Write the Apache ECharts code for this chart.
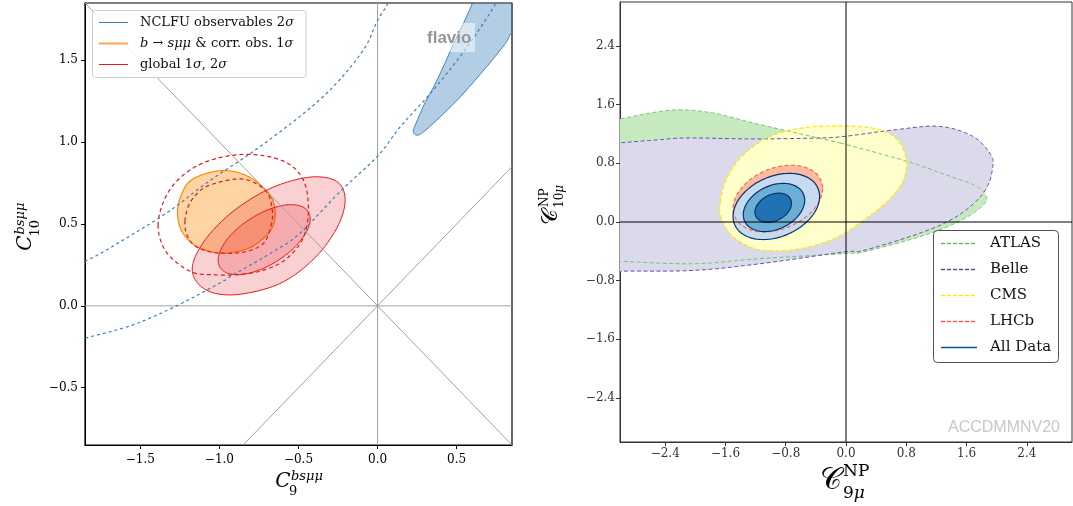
<!DOCTYPE html>
<html>
<head>
<meta charset="utf-8">
<script src="https://cdn.jsdelivr.net/npm/echarts@6/dist/echarts.min.js"></script>
<style>
  html, body { margin: 0; padding: 0; background: #fff; }
  #chart { width: 1073px; height: 506px; }
</style>
</head>
<body>
<div id="chart"></div>
<script>
// ---------- axes ----------
const leftXRange = [-1.85, 0.85];
const leftYRange = [-0.85, 1.85];
const leftXTicks = [-1.5, -1.0, -0.5, 0.0, 0.5];
const leftYTicks = [-0.5, 0.0, 0.5, 1.0, 1.5];
const rightRange = [-3, 3];
const rightTicks = [-2.4, -1.6, -0.8, 0.0, 0.8, 1.6, 2.4];

// ---------- left panel: C9 / C10 (bs mu mu) ----------
const nclfuRegion = [
  [0.24, 1.045], [0.226, 1.07], [0.25, 1.13], [0.30, 1.24], [0.357, 1.342], [0.42, 1.47],
  [0.484, 1.608], [0.55, 1.74], [0.60, 1.848], [0.65, 1.96], [0.98, 1.96], [0.98, 1.78],
  [0.857, 1.68], [0.82, 1.62], [0.78, 1.567], [0.675, 1.444], [0.527, 1.281], [0.40, 1.158],
  [0.30, 1.07], [0.262, 1.045]
];
const nclfuDashUpper = [
  [-1.92, 0.24], [-1.82, 0.286], [-1.694, 0.353], [-1.334, 0.567], [-1.081, 0.751],
  [-0.785, 0.944], [-0.489, 1.159], [-0.277, 1.342], [-0.087, 1.567], [-0.002, 1.74],
  [0.062, 1.842], [0.08, 1.92]
];
const nclfuDashLower = [
  [-1.92, -0.22], [-1.82, -0.19], [-1.546, -0.116], [-1.271, 0.0], [-0.996, 0.14],
  [-0.912, 0.19], [-0.658, 0.332], [-0.489, 0.445], [-0.235, 0.70], [0.0, 0.914],
  [0.146, 1.097], [0.336, 1.30], [0.55, 1.56], [0.738, 1.832], [0.77, 1.92]
];
const bsmumu1s = [
  [-1.265, 0.577], [-1.24, 0.68], [-1.187, 0.761], [-1.08, 0.81], [-0.954, 0.826],
  [-0.84, 0.80], [-0.742, 0.74], [-0.67, 0.66], [-0.647, 0.57], [-0.665, 0.48],
  [-0.721, 0.414], [-0.82, 0.35], [-0.975, 0.322], [-1.10, 0.345], [-1.187, 0.394], [-1.245, 0.47]
];
const global2s = [
  [-0.205, 0.649], [-0.255, 0.48], [-0.40, 0.29], [-0.62, 0.135], [-0.90, 0.068],
  [-1.09, 0.10], [-1.172, 0.22], [-1.10, 0.39], [-0.92, 0.572], [-0.679, 0.717],
  [-0.43, 0.786], [-0.26, 0.761]
];
const global1s = [
  [-0.426, 0.530], [-0.465, 0.427], [-0.572, 0.317], [-0.717, 0.231], [-0.863, 0.191],
  [-0.969, 0.209], [-1.008, 0.278], [-0.969, 0.382], [-0.863, 0.491], [-0.717, 0.577],
  [-0.572, 0.617], [-0.465, 0.600]
];
const dashOuter = [
  [-1.388, 0.49], [-1.36, 0.62], [-1.29, 0.74], [-1.17, 0.84], [-1.02, 0.90],
  [-0.85, 0.925], [-0.68, 0.91], [-0.55, 0.86], [-0.47, 0.77], [-0.44, 0.65],
  [-0.445, 0.50], [-0.49, 0.38], [-0.60, 0.27], [-0.75, 0.21], [-0.90, 0.19],
  [-1.05, 0.19], [-1.17, 0.205], [-1.29, 0.28], [-1.36, 0.37]
];
const dashInner = [
  [-1.218, 0.516], [-1.20, 0.60], [-1.166, 0.659], [-1.10, 0.72], [-1.017, 0.751],
  [-0.92, 0.772], [-0.827, 0.771], [-0.74, 0.73], [-0.69, 0.679], [-0.668, 0.60],
  [-0.668, 0.516], [-0.711, 0.394], [-0.80, 0.34], [-0.93, 0.32], [-1.06, 0.33],
  [-1.16, 0.37], [-1.208, 0.44]
];

// ---------- right panel: C9mu NP / C10mu NP ----------
const atlas = [
  [-3.3, 1.33], [-3.0, 1.404], [-2.55, 1.494], [-2.2, 1.53], [-1.76, 1.485], [-1.23, 1.35],
  [-0.70, 1.224], [-0.083, 1.079], [0.0, 1.057], [0.8, 0.83], [1.37, 0.627], [1.725, 0.492],
  [1.857, 0.356], [1.835, 0.244], [1.636, 0.085], [1.328, -0.073], [0.886, -0.23],
  [0.225, -0.41], [0.0, -0.43], [-1.14, -0.50], [-2.02, -0.569], [-2.95, -0.538], [-3.3, -0.52]
];
const belle = [
  [-3.3, 1.06], [-3.0, 1.08], [-2.5, 1.12], [-2.11, 1.146], [-1.23, 1.133], [-0.35, 1.146],
  [0.0, 1.17], [0.67, 1.26], [1.24, 1.305], [1.68, 1.17], [1.92, 0.92], [1.944, 0.72],
  [1.857, 0.447], [1.636, 0.198], [1.328, -0.005], [0.886, -0.186], [0.225, -0.389],
  [-0.04, -0.41], [-1.14, -0.569], [-2.02, -0.66], [-2.95, -0.67], [-3.3, -0.68]
];
const cms = [
  [-1.67, 0.27], [-1.60, 0.55], [-1.45, 0.82], [-1.23, 1.03], [-0.95, 1.19], [-0.60, 1.28],
  [-0.20, 1.31], [0.20, 1.30], [0.50, 1.24], [0.70, 1.10], [0.80, 0.85], [0.76, 0.56],
  [0.55, 0.28], [0.23, 0.02], [-0.08, -0.19], [-0.35, -0.30], [-0.70, -0.38], [-1.00, -0.39],
  [-1.25, -0.35], [-1.52, -0.18], [-1.66, 0.06]
];
const lhcb = [
  [-0.31, 0.457], [-0.39, 0.221], [-0.608, 0.012], [-0.905, -0.114], [-1.203, -0.124],
  [-1.42, -0.015], [-1.50, 0.184], [-1.42, 0.419], [-1.203, 0.628], [-0.905, 0.754],
  [-0.608, 0.764], [-0.39, 0.655]
];
const allData3 = [
  [-0.350, 0.348], [-0.427, 0.114], [-0.638, -0.093], [-0.925, -0.219], [-1.213, -0.229],
  [-1.423, -0.121], [-1.500, 0.076], [-1.423, 0.310], [-1.213, 0.517], [-0.925, 0.643],
  [-0.638, 0.653], [-0.427, 0.545]
];
const allData2 = [
  [-0.548, 0.297], [-0.603, 0.127], [-0.752, -0.024], [-0.956, -0.116], [-1.160, -0.123],
  [-1.309, -0.045], [-1.364, 0.099], [-1.309, 0.269], [-1.160, 0.420], [-0.956, 0.512],
  [-0.752, 0.519], [-0.603, 0.441]
];
const allData1 = [
  [-0.724, 0.254], [-0.756, 0.151], [-0.845, 0.060], [-0.966, 0.004], [-1.087, -0.001],
  [-1.176, 0.047], [-1.209, 0.134], [-1.176, 0.237], [-1.087, 0.329], [-0.966, 0.384],
  [-0.845, 0.389], [-0.756, 0.341]
];

// ---------- helpers ----------
const serif = '"DejaVu Serif", "Liberation Serif", serif';
const minusFmt = v => (v < 0 ? '\u2212' : '') + Math.abs(v).toFixed(1);

// Catmull-Rom spline through pixel points, used to draw smooth contour outlines
function spline(pts, closed, steps) {
  const n = pts.length;
  if (n < 3) return pts;
  const get = i => closed ? pts[(i + n) % n] : pts[Math.max(0, Math.min(n - 1, i))];
  const out = [];
  const last = closed ? n : n - 1;
  for (let i = 0; i < last; i++) {
    const p0 = get(i - 1), p1 = get(i), p2 = get(i + 1), p3 = get(i + 2);
    for (let s = 0; s < steps; s++) {
      const t = s / steps, t2 = t * t, t3 = t2 * t;
      const f = k => 0.5 * (2 * p1[k] + (-p0[k] + p2[k]) * t +
        (2 * p0[k] - 5 * p1[k] + 4 * p2[k] - p3[k]) * t2 +
        (-p0[k] + 3 * p1[k] - 3 * p2[k] + p3[k]) * t3);
      out.push([f(0), f(1)]);
    }
  }
  if (!closed) out.push(pts[n - 1]);
  return out;
}

function shape(pts, axis, opt) {
  const closed = opt.closed !== false;
  return {
    type: 'custom',
    coordinateSystem: 'cartesian2d',
    xAxisIndex: axis, yAxisIndex: axis,
    clip: true, silent: true,
    z: opt.z,
    data: [0],
    renderItem: function (params, api) {
      const px = pts.map(p => api.coord(p));
      const points = opt.straight ? px : spline(px, closed, 12);
      return {
        type: closed ? 'polygon' : 'polyline',
        shape: { points: points },
        style: {
          fill: opt.fill || null,
          stroke: opt.stroke || null,
          lineWidth: opt.width || 1,
          lineDash: opt.dash || null
        }
      };
    }
  };
}

function valueAxis(grid, range, ticks, opt) {
  return {
    type: 'value', gridIndex: grid, min: range[0], max: range[1],
    axisLine: { show: true, onZero: false, lineStyle: { color: opt.color, width: 1 } },
    axisTick: { show: true, inside: false, length: 4, customValues: ticks, lineStyle: { color: opt.color } },
    axisLabel: {
      customValues: ticks, formatter: minusFmt, margin: opt.margin,
      fontFamily: serif, fontSize: 12, color: opt.labelColor
    },
    splitLine: { show: false }
  };
}

const guide = { closed: false, straight: true, stroke: '#a0a0a0', width: 1, z: 6 };
const zeroLine = { closed: false, straight: true, stroke: '#000', width: 1, z: 4 };

const series = [
  // left panel regions
  shape(nclfuRegion, 0, { fill: 'rgba(55,126,184,0.38)', stroke: '#377eb8', width: 1, z: 2 }),
  shape(bsmumu1s, 0, { fill: 'rgba(252,141,13,0.38)', stroke: '#ff8c00', width: 1.2, z: 3 }),
  shape(global2s, 0, { fill: 'rgba(228,26,28,0.2)', stroke: '#e41a1c', width: 1, z: 4 }),
  shape(global1s, 0, { fill: 'rgba(228,26,28,0.2)', stroke: '#e41a1c', width: 1, z: 5 }),
  // left panel guide lines through the origin
  shape([[leftXRange[0], -leftXRange[0]], [-leftYRange[0], leftYRange[0]]], 0, guide),
  shape([[leftYRange[0], leftYRange[0]], [leftXRange[1], leftXRange[1]]], 0, guide),
  shape([[0, leftYRange[0]], [0, leftYRange[1]]], 0, guide),
  shape([[leftXRange[0], 0], [leftXRange[1], 0]], 0, guide),
  // left panel dashed contours
  shape(dashOuter, 0, { stroke: '#e41a1c', width: 1.2, dash: [4, 3], z: 7 }),
  shape(dashInner, 0, { stroke: '#e41a1c', width: 1.2, dash: [4, 3], z: 7 }),
  shape(nclfuDashUpper, 0, { closed: false, stroke: '#3a7dc0', width: 1.2, dash: [3, 3], z: 7 }),
  shape(nclfuDashLower, 0, { closed: false, stroke: '#3a7dc0', width: 1.2, dash: [3, 3], z: 7 }),

  // right panel filled regions
  shape(atlas, 1, { fill: '#c7e9c0', z: 2 }),
  shape(belle, 1, { fill: '#dadaeb', z: 2 }),
  shape(cms, 1, { fill: '#ffffcc', z: 2 }),
  shape(lhcb, 1, { fill: '#fcbba1', z: 2 }),
  shape(allData3, 1, { fill: '#c6dbef', z: 2 }),
  shape(allData2, 1, { fill: '#6baed6', z: 2 }),
  shape(allData1, 1, { fill: '#2171b5', z: 2 }),
  // right panel contour lines
  shape(atlas, 1, { stroke: '#74c476', width: 1, dash: [4, 2.5], z: 3 }),
  shape(belle, 1, { stroke: '#6a51a3', width: 1, dash: [4, 2.5], z: 3 }),
  shape(cms, 1, { stroke: '#ffe800', width: 1.2, dash: [4, 2.5], z: 3 }),
  shape(lhcb, 1, { stroke: '#fb6a4a', width: 1.2, dash: [4, 2.5], z: 3 }),
  shape(allData3, 1, { stroke: '#08306b', width: 1.2, z: 3 }),
  shape(allData2, 1, { stroke: '#08306b', width: 1.2, z: 3 }),
  shape(allData1, 1, { stroke: '#08306b', width: 1.2, z: 3 }),
  // right panel zero lines
  shape([[0, rightRange[0]], [0, rightRange[1]]], 1, zeroLine),
  shape([[rightRange[0], 0], [rightRange[1], 0]], 1, zeroLine)
];

// dashed legend sample built from short solid strokes
function dashedSample(x1, x2, y, color, dash, gap, width) {
  const parts = [];
  for (let x = x1; x < x2; x += dash + gap) {
    parts.push({ type: 'line', shape: { x1: x, y1: y, x2: Math.min(x + dash, x2), y2: y }, style: { stroke: color, lineWidth: width }, z: 31 });
  }
  return parts;
}

// ---------- labels and legends ----------
const legendRows = [
  { name: 'ATLAS', color: '#5fb862', dashed: true },
  { name: 'Belle', color: '#5a3f9e', dashed: true },
  { name: 'CMS', color: '#ffe800', dashed: true },
  { name: 'LHCb', color: '#f8573a', dashed: true },
  { name: 'All Data', color: '#08519c', dashed: false }
];

const rich13 = { i: { fontStyle: 'italic', fontFamily: serif, fontSize: 13 } };

const graphic = [
  // flavio mark
  { type: 'rect', shape: { x: 424, y: 23, width: 51, height: 29 }, style: { fill: 'rgba(255,255,255,0.5)' }, z: 20, silent: true },
  { type: 'text', x: 427, y: 38, style: { text: 'flavio', font: 'bold 17px "Liberation Sans", Arial, sans-serif', fill: '#969696', verticalAlign: 'middle' }, z: 21 },

  // left legend
  { type: 'rect', shape: { x: 92.5, y: 10.5, width: 213.5, height: 67, r: 3 }, style: { fill: 'rgba(255,255,255,0.85)', stroke: '#cccccc', lineWidth: 1 }, z: 30 },
  { type: 'line', shape: { x1: 99, y1: 22.5, x2: 128, y2: 22.5 }, style: { stroke: '#3a7dc0', lineWidth: 1 }, z: 31 },
  { type: 'line', shape: { x1: 99, y1: 43.5, x2: 128, y2: 43.5 }, style: { stroke: '#ffa64d', lineWidth: 2 }, z: 31 },
  { type: 'line', shape: { x1: 99, y1: 64.5, x2: 128, y2: 64.5 }, style: { stroke: '#e41a1c', lineWidth: 1 }, z: 31 },
  { type: 'text', x: 140, y: 22.5, style: { text: 'NCLFU observables 2{i|σ}', font: '13px ' + serif, fill: '#111', verticalAlign: 'middle', rich: rich13 }, z: 31 },
  { type: 'text', x: 140, y: 43.5, style: { text: '{i|b} → {i|sμμ} & corr. obs. 1{i|σ}', font: '13px ' + serif, fill: '#111', verticalAlign: 'middle', rich: rich13 }, z: 31 },
  { type: 'text', x: 140, y: 64.5, style: { text: 'global 1{i|σ}, 2{i|σ}', font: '13px ' + serif, fill: '#111', verticalAlign: 'middle', rich: rich13 }, z: 31 },

  // left x-axis title
  { type: 'text', x: 283, y: 482, style: { text: 'C', font: 'italic 20px ' + serif, fill: '#000', align: 'center', verticalAlign: 'middle' } },
  { type: 'text', x: 291, y: 477, style: { text: 'bsμμ', font: 'italic 13px ' + serif, fill: '#000', align: 'left', verticalAlign: 'middle' } },
  { type: 'text', x: 289, y: 492, style: { text: '9', font: '13px ' + serif, fill: '#000', align: 'left', verticalAlign: 'middle' } },
  // left y-axis title (rotated)
  {
    type: 'group', x: 26, y: 243, rotation: Math.PI / 2,
    children: [
      { type: 'text', x: 0, y: 0, style: { text: 'C', font: 'italic 20px ' + serif, fill: '#000', align: 'center', verticalAlign: 'middle' } },
      { type: 'text', x: 8.5, y: -5, style: { text: 'bsμμ', font: 'italic 13px ' + serif, fill: '#000', align: 'left', verticalAlign: 'middle' } },
      { type: 'text', x: 6.5, y: 10, style: { text: '10', font: '13px ' + serif, fill: '#000', align: 'left', verticalAlign: 'middle' } }
    ]
  },

  // right legend box
  { type: 'rect', shape: { x: 933.5, y: 230.5, width: 125, height: 132, r: 4 }, style: { fill: '#ffffff', stroke: '#505050', lineWidth: 1 }, z: 30 },

  // right mark
  { type: 'text', x: 1060, y: 428, style: { text: 'ACCDMMNV20', font: '16px "Liberation Sans", Arial, sans-serif', fill: '#c8c8c8', align: 'right', verticalAlign: 'middle' }, z: 20 },

  // right x-axis title
  { type: 'text', x: 831, y: 481, style: { text: '𝒞', font: '30px "DejaVu Serif", serif', fill: '#000', align: 'center', verticalAlign: 'middle' } },
  { type: 'text', x: 843, y: 472, style: { text: 'NP', font: '17px ' + serif, fill: '#000', align: 'left', verticalAlign: 'middle' } },
  { type: 'text', x: 843, y: 494, style: { text: '9{i|μ}', font: '17px ' + serif, fill: '#000', align: 'left', verticalAlign: 'middle', rich: { i: { fontStyle: 'italic', fontFamily: serif, fontSize: 17 } } } },
  // right y-axis title (rotated)
  {
    type: 'group', x: 551, y: 217, rotation: Math.PI / 2,
    children: [
      { type: 'text', x: 0, y: 0, style: { text: '𝒞', font: '22px "DejaVu Serif", serif', fill: '#000', align: 'center', verticalAlign: 'middle' } },
      { type: 'text', x: 10, y: -6, style: { text: 'NP', font: '12px ' + serif, fill: '#000', align: 'left', verticalAlign: 'middle' } },
      { type: 'text', x: 9, y: 9, style: { text: '10{i|μ}', font: '12px ' + serif, fill: '#000', align: 'left', verticalAlign: 'middle', rich: { i: { fontStyle: 'italic', fontFamily: serif, fontSize: 12 } } } }
    ]
  }
];

legendRows.forEach((row, i) => {
  const y = 243.5 + i * 26;
  if (row.dashed) {
    dashedSample(941, 977, y, row.color, 4, 2, 1.4).forEach(p => graphic.push(p));
  } else {
    graphic.push({ type: 'line', shape: { x1: 941, y1: y, x2: 977, y2: y }, style: { stroke: row.color, lineWidth: 1.4 }, z: 31 });
  }
  graphic.push({ type: 'text', x: 990, y: y, style: { text: row.name, font: '15px ' + serif, fill: '#111', verticalAlign: 'middle' }, z: 31 });
});

const chart = echarts.init(document.getElementById('chart'), null, { renderer: 'canvas' });
chart.setOption({
  animation: false,
  backgroundColor: '#fff',
  grid: [
    { left: 85, top: 3, width: 427, height: 442, show: true, borderColor: '#000', borderWidth: 1.2, backgroundColor: 'transparent' },
    { left: 620, top: 2, width: 452, height: 440, show: true, borderColor: '#333', borderWidth: 1, backgroundColor: 'transparent' }
  ],
  xAxis: [
    valueAxis(0, leftXRange, leftXTicks, { color: '#000', labelColor: '#000', margin: 9 }),
    valueAxis(1, rightRange, rightTicks, { color: '#333', labelColor: '#333', margin: 6 })
  ],
  yAxis: [
    valueAxis(0, leftYRange, leftYTicks, { color: '#000', labelColor: '#000', margin: 7 }),
    valueAxis(1, rightRange, rightTicks, { color: '#333', labelColor: '#333', margin: 5 })
  ],
  series: series,
  graphic: graphic
});
</script>
</body>
</html>
